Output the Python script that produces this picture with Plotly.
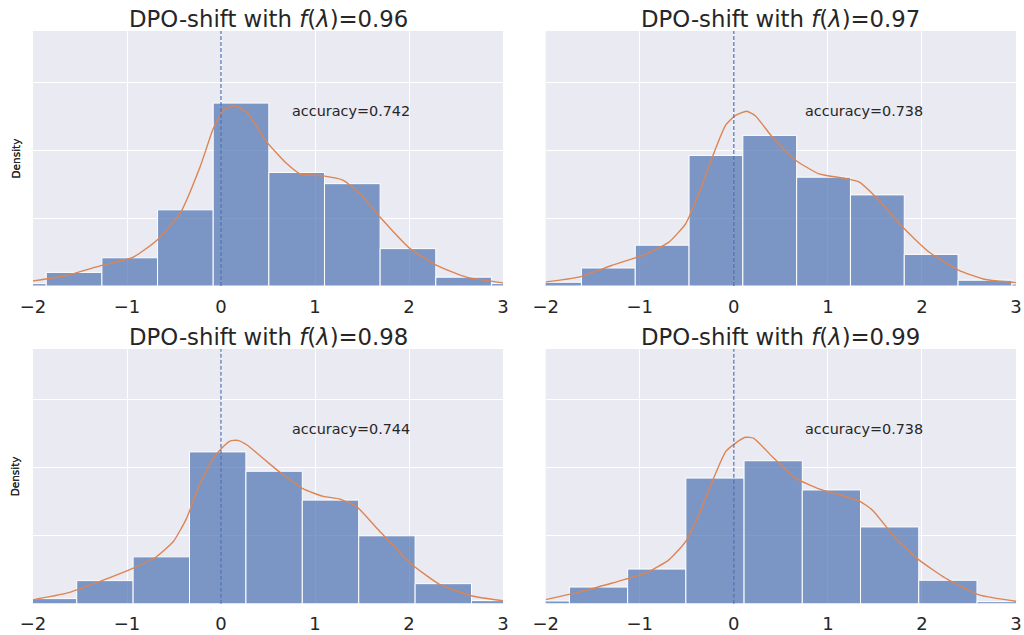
import numpy as np
import plotly.graph_objects as go

# ---- data -------------------------------------------------------------
f_lambda = ["0.96", "0.97", "0.98", "0.99"]
accuracy = [0.742, 0.738, 0.744, 0.738]

# histogram bins: left edge of first bin, common bin width, densities
bin_start = [-2.451, -2.192, -2.135, -2.367]
bin_width = [0.592, 0.572, 0.600, 0.619]

dens_096 = [0.007, 0.040, 0.083, 0.224, 0.538, 0.334, 0.301, 0.110, 0.026, 0.007]
dens_097 = [0.011, 0.053, 0.120, 0.384, 0.443, 0.320, 0.268, 0.093, 0.017, 0.006]
dens_098 = [0.015, 0.068, 0.138, 0.447, 0.390, 0.305, 0.200, 0.059, 0.009]
dens_099 = [0.008, 0.049, 0.102, 0.370, 0.421, 0.335, 0.226, 0.069, 0.006]

# kernel density estimate curves
kde_x_096 = [-2.0, -1.64, -1.287, -0.933, -0.684, -0.436, -0.223, -0.082, 0.025, 0.142,
             0.273, 0.486, 0.699, 0.840, 1.089, 1.301, 1.479, 1.691, 2.011, 2.294, 2.613, 3.003]
kde_y_096 = [0.015, 0.031, 0.059, 0.085, 0.134, 0.213, 0.350, 0.463, 0.517, 0.531,
             0.512, 0.424, 0.360, 0.330, 0.324, 0.311, 0.272, 0.203, 0.110, 0.061, 0.026, 0.009]

kde_x_097 = [-2.0, -1.648, -1.293, -0.939, -0.690, -0.513, -0.371, -0.229, -0.087, 0.019, 0.136,
             0.231, 0.409, 0.657, 0.905, 1.188, 1.330, 1.543, 1.791, 2.075, 2.394, 2.677, 3.003]
kde_y_097 = [0.012, 0.026, 0.061, 0.093, 0.129, 0.183, 0.272, 0.379, 0.473, 0.502, 0.514,
             0.500, 0.438, 0.370, 0.330, 0.316, 0.306, 0.252, 0.174, 0.100, 0.046, 0.019, 0.010]

kde_x_098 = [-2.0, -1.642, -1.287, -0.933, -0.684, -0.507, -0.365, -0.223, -0.082, 0.007, 0.096,
             0.177, 0.273, 0.486, 0.663, 0.876, 1.089, 1.266, 1.443, 1.656, 2.011, 2.330, 2.684, 3.0]
kde_y_098 = [0.012, 0.031, 0.066, 0.105, 0.139, 0.183, 0.252, 0.355, 0.428, 0.458, 0.479,
             0.481, 0.468, 0.419, 0.379, 0.338, 0.316, 0.308, 0.286, 0.223, 0.120, 0.056, 0.022, 0.009]

kde_x_099 = [-2.0, -1.648, -1.293, -0.939, -0.690, -0.513, -0.371, -0.229, -0.087, 0.019, 0.125,
             0.213, 0.409, 0.657, 0.905, 1.117, 1.330, 1.472, 1.720, 1.968, 2.252, 2.606, 3.003]
kde_y_099 = [0.012, 0.034, 0.061, 0.090, 0.129, 0.183, 0.262, 0.360, 0.448, 0.473, 0.490,
             0.487, 0.433, 0.370, 0.338, 0.321, 0.303, 0.276, 0.193, 0.129, 0.075, 0.026, 0.007]

x_ticks = [-2, -1, 0, 1, 2, 3]
x_tick_text = ["\u22122", "\u22121", "0", "1", "2", "3"]

densities = [dens_096, dens_097, dens_098, dens_099]
kde_x = [kde_x_096, kde_x_097, kde_x_098, kde_x_099]
kde_y = [kde_y_096, kde_y_097, kde_y_098, kde_y_099]

# ---- layout geometry (paper fractions) --------------------------------
W, H = 1024, 635
x_domains = [[33 / W, 503 / W], [545.7 / W, 1016 / W]]
y_domains = [[1 - 286 / H, 1 - 31 / H], [1 - 603.7 / H, 1 - 349 / H]]

FONT = "DejaVu Sans"
TEXT = "#262626"
BLUE = "#4c72b0"
ORANGE = "#dd8452"

fig = go.Figure()
layout = dict(
    width=W, height=H,
    margin=dict(l=0, r=0, t=0, b=0, autoexpand=False),
    paper_bgcolor="white",
    plot_bgcolor="#eaeaf2",
    showlegend=False,
    font=dict(family=FONT, color=TEXT),
    annotations=[], shapes=[],
)

for i in range(4):
    row, col = divmod(i, 2)
    sfx = "" if i == 0 else str(i + 1)
    xa, ya = "x" + sfx, "y" + sfx

    dens = np.array(densities[i])
    centers = bin_start[i] + bin_width[i] * (np.arange(len(dens)) + 0.5)

    fig.add_trace(go.Bar(
        x=centers, y=dens, width=bin_width[i],
        marker=dict(color="rgba(76,114,176,0.7)", line=dict(color="white", width=1)),
        xaxis=xa, yaxis=ya, hoverinfo="skip",
    ))
    fig.add_trace(go.Scatter(
        x=kde_x[i], y=kde_y[i], mode="lines",
        line=dict(color=ORANGE, width=1.4, shape="spline", smoothing=0.5),
        xaxis=xa, yaxis=ya, hoverinfo="skip",
    ))

    layout["xaxis" + sfx] = dict(
        domain=x_domains[col], anchor=ya, range=[-2, 3], automargin=False,
        tickvals=x_ticks, ticktext=x_tick_text,
        tickfont=dict(size=18, color=TEXT, family=FONT),
        ticks="outside", ticklen=4, tickcolor="rgba(0,0,0,0)",
        showgrid=True, gridcolor="white", gridwidth=1,
        zeroline=False, showline=False, fixedrange=True,
    )
    layout["yaxis" + sfx] = dict(
        domain=y_domains[row], anchor=xa, range=[0, 0.75], automargin=False,
        tickvals=[0, 0.2, 0.4, 0.6], showticklabels=False,
        showgrid=True, gridcolor="white", gridwidth=1,
        zeroline=False, showline=False, fixedrange=True,
    )

    # reference line at zero
    layout["shapes"].append(dict(
        type="line", xref=xa, yref=ya + " domain", x0=0, x1=0, y0=0, y1=1,
        line=dict(color=BLUE, width=1.2, dash="4px,2px"), layer="above",
    ))

    # panel title
    layout["annotations"].append(dict(
        text=f"DPO-shift with <i>f</i>(<i>\u03bb</i>)={f_lambda[i]}",
        xref="paper", yref="paper",
        x=sum(x_domains[col]) / 2, y=y_domains[row][1],
        xanchor="center", yanchor="bottom", yshift=-3,
        showarrow=False, font=dict(size=22.8, color=TEXT, family=FONT),
    ))
    # accuracy label
    layout["annotations"].append(dict(
        text=f"accuracy={accuracy[i]:.3f}",
        xref=xa, yref=ya, x=0.735, y=0.514,
        xanchor="left", yanchor="middle",
        showarrow=False, font=dict(size=14.4, color=TEXT, family=FONT),
    ))
    # y-axis label
    layout["annotations"].append(dict(
        text="Density", textangle=-90,
        xref="paper", yref="paper",
        x=15 / W, y=sum(y_domains[row]) / 2,
        xanchor="center", yanchor="middle",
        showarrow=False, font=dict(size=10.5, color=TEXT, family=FONT),
    ))

fig.update_layout(**layout)
fig.write_html("out.html", config={"displayModeBar": False})
